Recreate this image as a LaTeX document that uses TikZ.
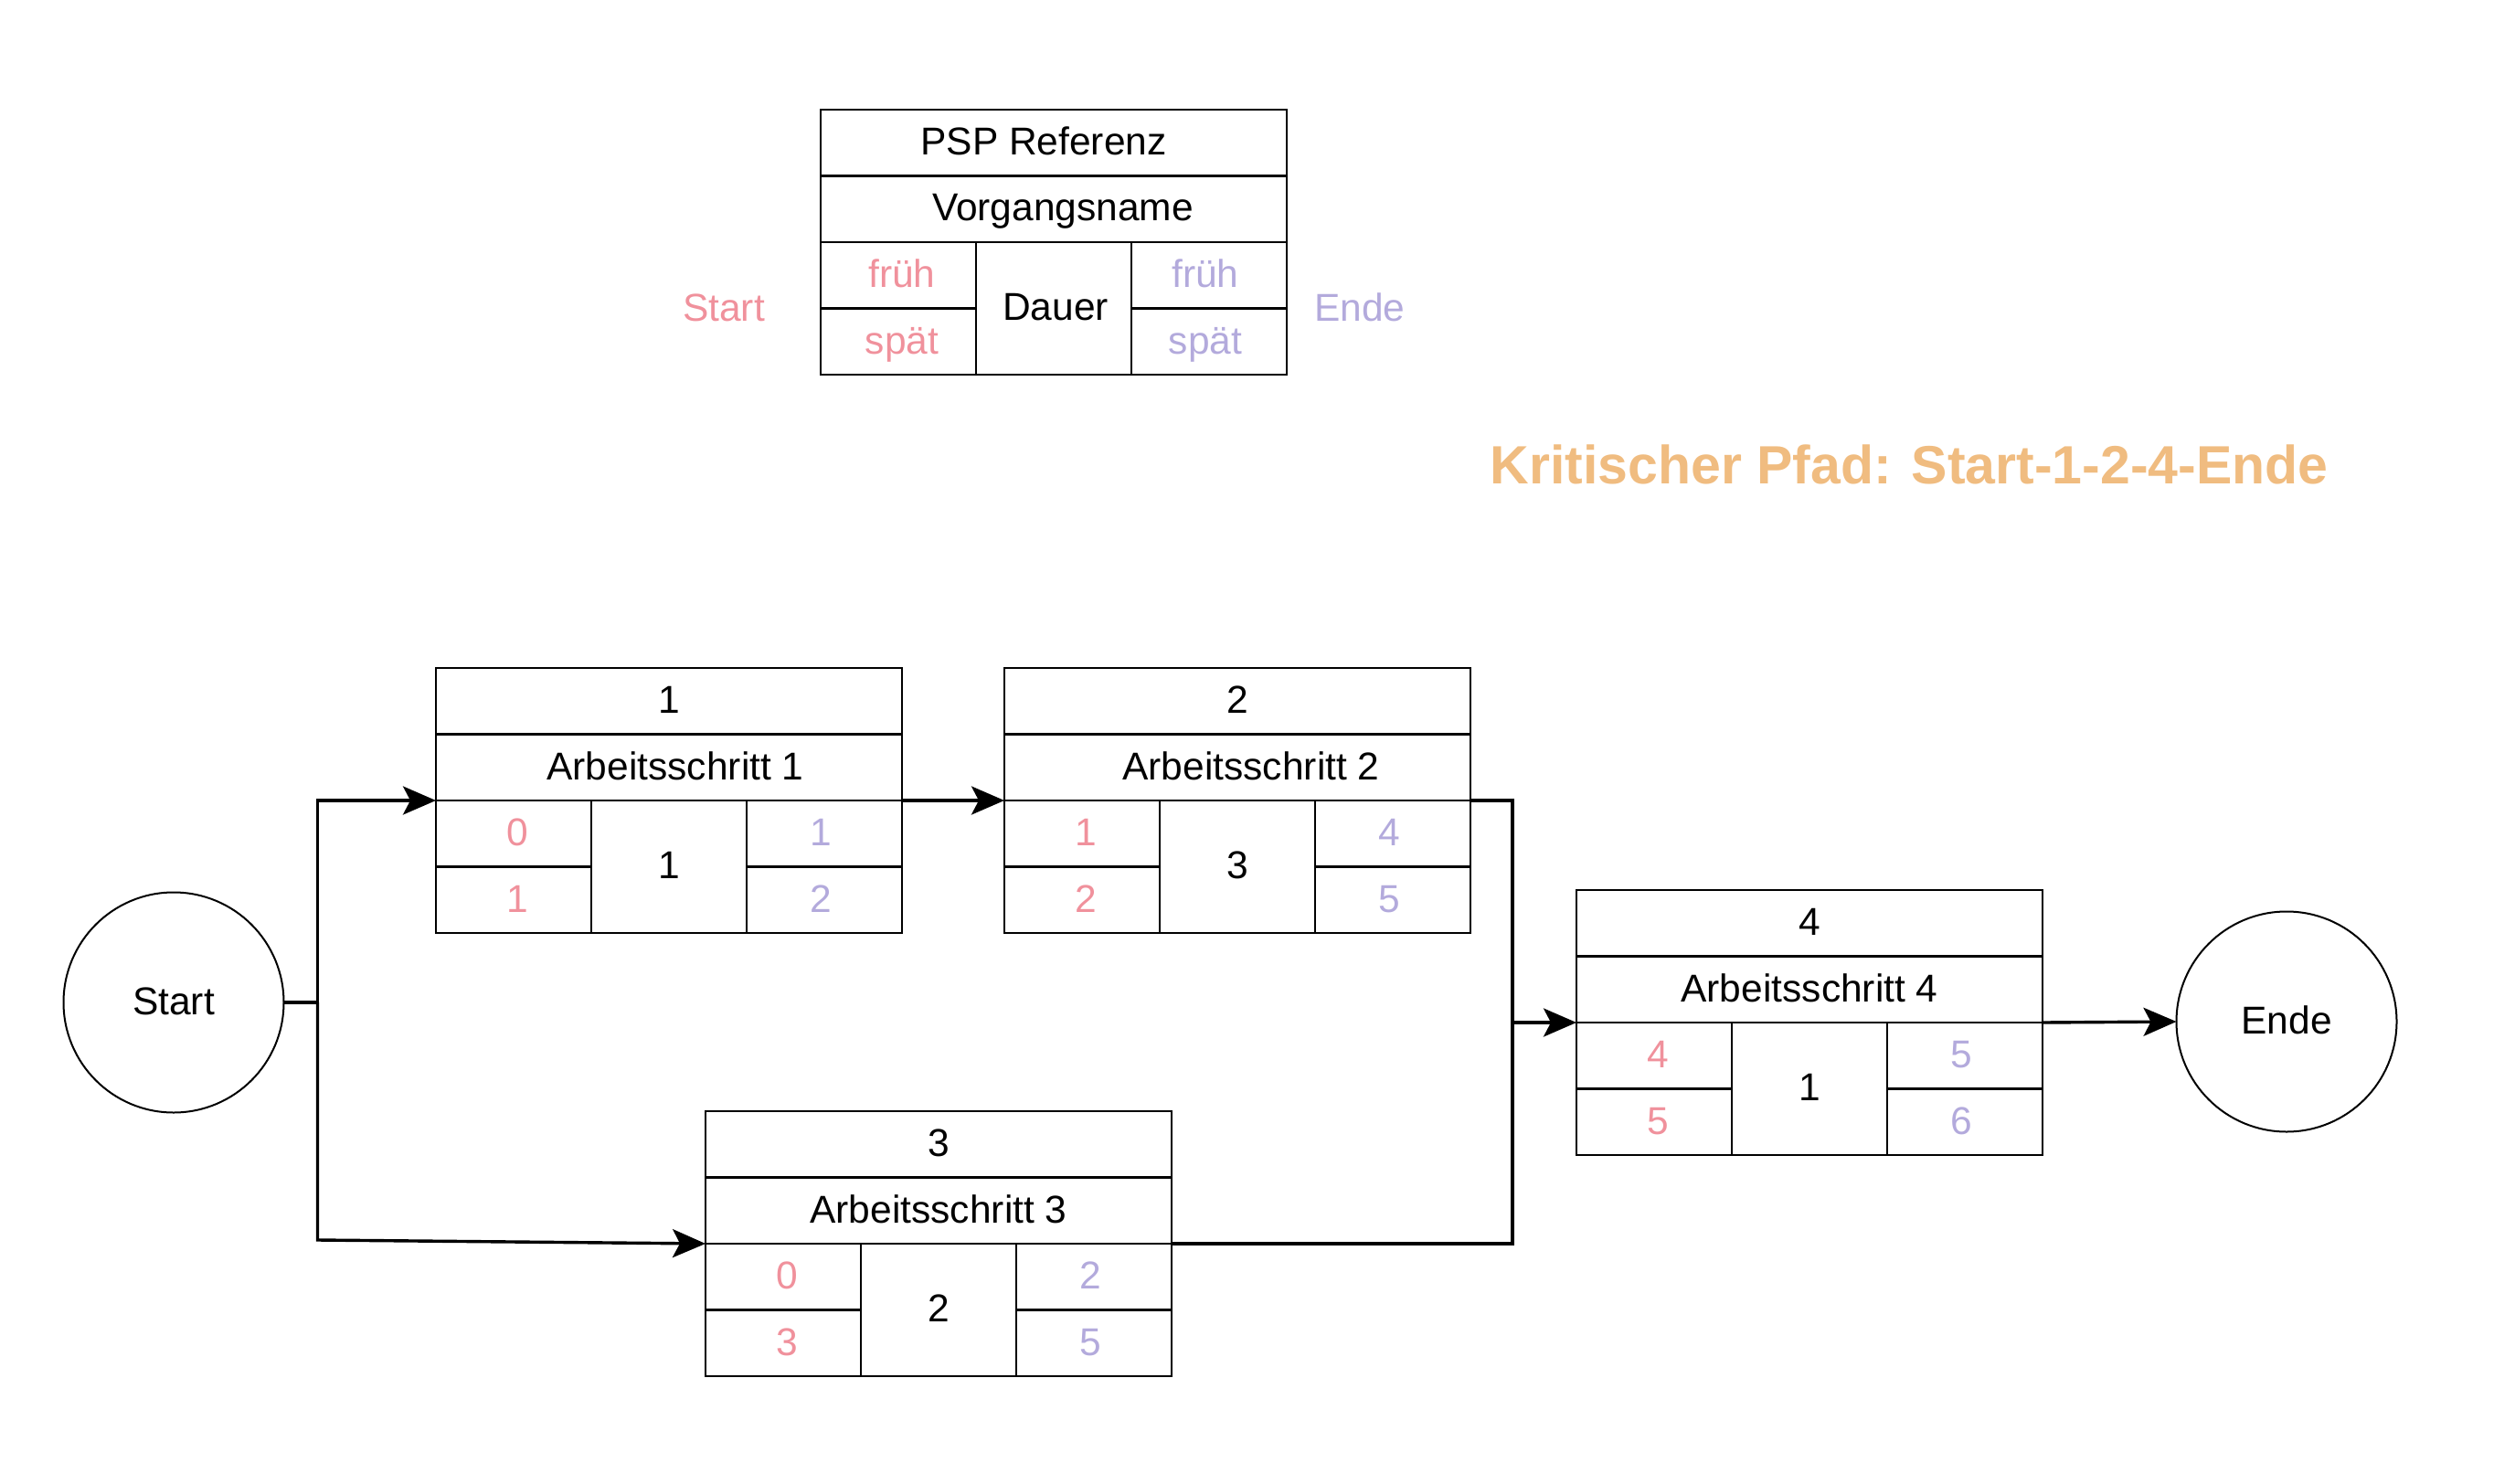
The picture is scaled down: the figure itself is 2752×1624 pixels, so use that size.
\documentclass[tikz,border=0pt]{standalone}
\usepackage{fontspec}
\setmainfont{Liberation Sans}
\usetikzlibrary{arrows.meta,calc}
\definecolor{fruehc}{HTML}{F0919C}
\definecolor{spaetc}{HTML}{B3AADC}
\definecolor{kritc}{HTML}{F0BC80}
\newcommand{\TaskBox}[9]{%
  \node[cell,wide,anchor=north west] (#1h) at #2 {#3};
  \node[cell,wide,anchor=north west] (#1n) at (#1h.south west) {#4};
  \node[cell,narrow,anchor=north west,text=fruehc] (#1es) at (#1n.south west) {\hspace*{8pt}#6};
  \node[cell,narrow,anchor=north west,text=fruehc] (#1ls) at (#1es.south west) {\hspace*{8pt}#7};
  \node[cell,durc,anchor=north west] (#1d) at (#1es.north east) {#5};
  \node[cell,narrow,anchor=north west,text=spaetc] (#1ef) at (#1d.north east) {#8\hspace*{8pt}};
  \node[cell,narrow,anchor=north west,text=spaetc] (#1lf) at (#1ef.south west) {#9\hspace*{8pt}};
}
\begin{document}
\begin{tikzpicture}[x=1pt,y=-1pt,
  txt/.style={font=\fontsize{42.5}{51}\selectfont, text height=30.5pt, text depth=4pt, inner sep=0pt},
  cell/.style={txt, draw, line width=2.4pt, outer sep=0pt},
  wide/.style={minimum width=510pt, minimum height=72.5pt},
  narrow/.style={minimum width=170pt, minimum height=72.5pt},
  durc/.style={minimum width=170pt, minimum height=145pt},
  circ/.style={txt, circle, draw, line width=2pt, minimum size=241pt, outer sep=0pt},
  conn/.style={line width=3.4pt, -{Stealth[length=36pt,width=31pt,inset=8pt]}},
  plain/.style={line width=3.4pt}]
\useasboundingbox (0,0) rectangle (2752,1624);
% legend
\TaskBox{L}{(898,120)}{PSP Referenz\hspace*{22pt}}{\hspace*{20pt}Vorgangsname}{\hspace*{4pt}Dauer}{früh}{spät}{früh}{spät}
\node[txt, text=fruehc] (lstart) at (792,338) {Start};
\node[txt, text=spaetc] (lende) at (1488,338) {Ende};
% title
\node[font=\bfseries\fontsize{59}{70}\selectfont, text=kritc, anchor=base, inner sep=0pt] (krit) at (2089,529) {Kritischer Pfad: Start-1-2-4-Ende};
% tasks
\TaskBox{t1}{(477,731)}{1}{\hspace*{14pt}Arbeitsschritt 1}{1}{0}{1}{1}{2}
\TaskBox{t2}{(1099,731)}{2}{\hspace*{30pt}Arbeitsschritt 2}{3}{1}{2}{4}{5}
\TaskBox{t3}{(772,1216)}{3}{Arbeitsschritt 3}{2}{0}{3}{2}{5}
\TaskBox{t4}{(1725,974)}{4}{Arbeitsschritt 4}{1}{4}{5}{5}{6}
% start / end
\node[circ] (start) at (190,1097) {Start};
\node[circ] (ende) at (2502,1118) {Ende};
% connectors
\coordinate (sj) at ($(start.east)+(37,0)$);
\coordinate (sk) at ($(sj)+(0,260)$);
\coordinate (mj) at ($(t4n.south west)+(-70,0)$);
\draw[plain] (start.east) -- (sj);
\draw[conn] (sj) |- (t1n.south west);
\draw[conn] (sj) -- (sk) -- (t3n.south west);
\draw[conn] (t1n.south east) -- (t2n.south west);
\draw[plain] (t2n.south east) -| (mj);
\draw[plain] (t3n.south east) -| (mj);
\draw[conn] (mj) -- (t4n.south west);
\draw[conn] (t4n.south east) -- (ende.west);
\end{tikzpicture}
\end{document}
